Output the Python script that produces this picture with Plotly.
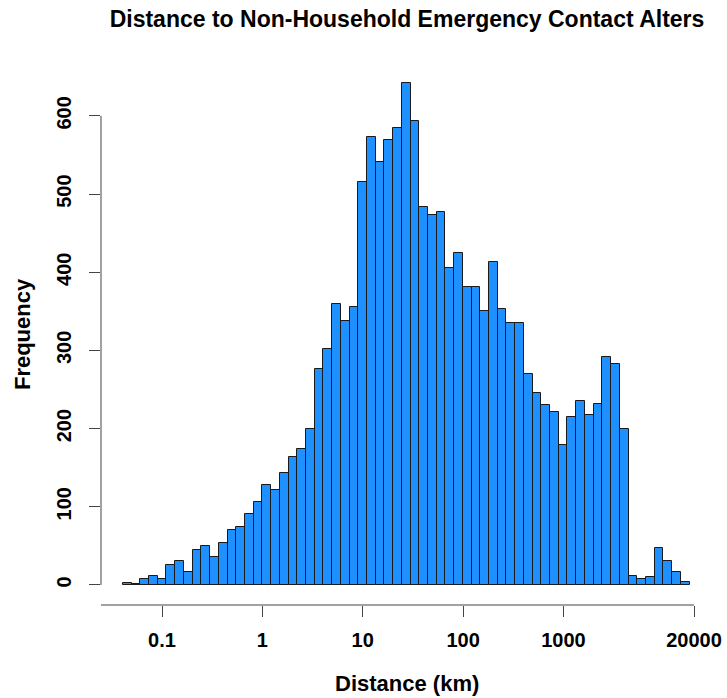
import math
import plotly.graph_objects as go

# Histogram of log(distance), natural-log bins of width 0.2 starting at ln = -3.2
ln_break_start = -3.2
ln_bin_width = 0.2
counts = [2, 1, 8, 11, 8, 26, 31, 17, 45, 50,
          36, 53, 70, 74, 91, 106, 128, 122, 143, 164,
          174, 200, 276, 302, 360, 338, 355, 515, 573, 541,
          569, 585, 642, 593, 483, 473, 477, 406, 425, 381,
          381, 351, 413, 353, 335, 335, 270, 246, 230, 221,
          179, 215, 235, 218, 231, 292, 282, 199, 11, 7,
          10, 47, 31, 17, 4]
x_tick_values_km = [0.1, 1, 10, 100, 1000, 20000]
x_tick_labels = ["0.1", "1", "10", "100", "1000", "20000"]
y_tick_values = [0, 100, 200, 300, 400, 500, 600]

LN10 = math.log(10)
centers = [(ln_break_start + (i + 0.5) * ln_bin_width) / LN10 for i in range(len(counts))]
width = ln_bin_width / LN10

font_fam = "Liberation Sans, Arial, Helvetica, sans-serif"
TICK_SIZE = 20
LAB_SIZE = 22
MAIN_SIZE = 23

fig = go.Figure()
fig.add_trace(go.Bar(
    x=centers, y=counts, width=width,
    marker=dict(color="#1E90FF", line=dict(color="#1a1a1a", width=1)),
    hoverinfo="skip",
))

x_lo, x_hi = -1.608, 4.49
fig.update_layout(
    width=727, height=698,
    paper_bgcolor="white", plot_bgcolor="white",
    margin=dict(l=101, r=14, t=63, b=93, autoexpand=False),
    showlegend=False,
    bargap=0,
    font=dict(family=font_fam, color="black", size=TICK_SIZE, weight="bold"),
    title=dict(
        text="Distance to Non-Household Emergency Contact Alters",
        x=0.5, xref="paper", xanchor="center",
        y=1 - 19 / 698, yref="container", yanchor="middle",
        font=dict(family=font_fam, size=MAIN_SIZE, weight="bold", color="black"),
        automargin=False,
    ),
    xaxis=dict(
        range=[x_lo, x_hi], showgrid=False, zeroline=False, showline=False,
        automargin=False,
        tickmode="array",
        tickvals=[math.log10(v) for v in x_tick_values_km],
        ticktext=x_tick_labels,
        ticks="outside", ticklen=11, tickwidth=1, tickcolor="#444444",
        ticklabelstandoff=6,
        tickfont=dict(family=font_fam, size=TICK_SIZE, weight="bold"),
    ),
    yaxis=dict(
        range=[-25.7, 667.7], showgrid=False, zeroline=False, showline=False,
        automargin=False,
        tickmode="array", tickvals=y_tick_values,
        ticks="outside", ticklen=11, tickwidth=1, tickcolor="#444444",
        tickangle=-90, ticklabelstandoff=10,
        tickfont=dict(family=font_fam, size=TICK_SIZE, weight="bold"),
    ),
    annotations=[
        dict(text="Distance (km)", xref="paper", yref="paper", x=0.5, y=-0.144,
             xanchor="center", yanchor="middle", showarrow=False,
             font=dict(family=font_fam, size=LAB_SIZE, weight="bold")),
        dict(text="Frequency", xref="paper", yref="paper", x=-0.129, y=0.5,
             xanchor="center", yanchor="middle", textangle=-90, showarrow=False,
             font=dict(family=font_fam, size=LAB_SIZE, weight="bold")),
    ],
    shapes=[
        dict(type="line", xref="paper", yref="y", x0=0, x1=0,
             y0=y_tick_values[0], y1=y_tick_values[-1],
             line=dict(color="#444444", width=1)),
        dict(type="line", xref="x", yref="paper", x0=x_lo,
             x1=math.log10(x_tick_values_km[-1]), y0=0, y1=0,
             line=dict(color="#444444", width=1)),
    ],
)

fig.write_html(
    "out.html",
    config={"displayModeBar": False},
    post_script="document.body.style.margin='0';document.body.style.padding='0';",
)
